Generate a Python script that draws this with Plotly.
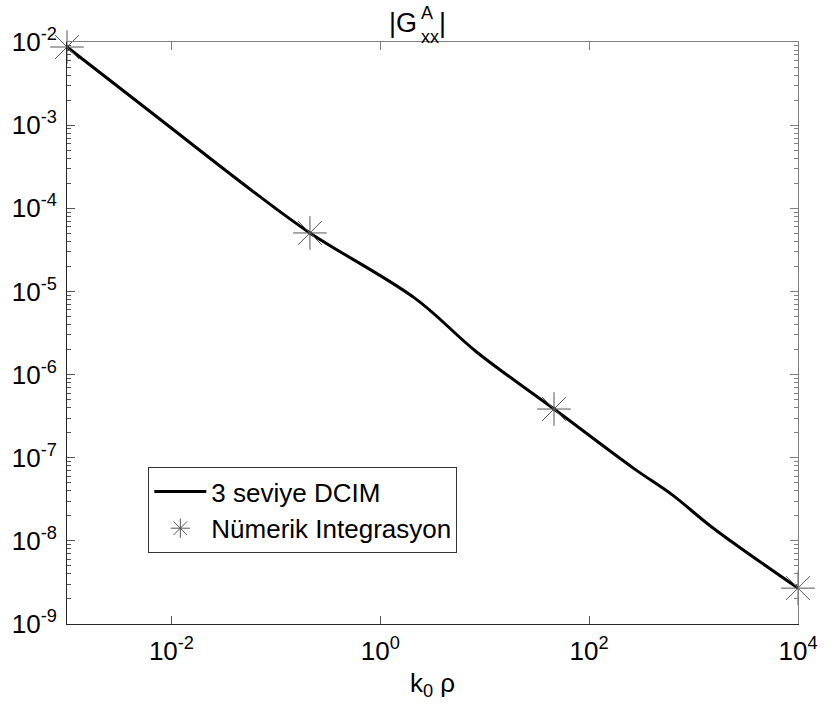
import plotly.graph_objects as go

# ---- data ----
line_x = [1e-3, 6.7e-3, 0.058, 0.212, 2.14, 8.36, 46.1, 265.0, 630.0, 1490.0, 1e4]
line_y = [8.7e-3, 1.36e-3, 1.66e-4, 5.05e-5, 8.3e-6, 1.87e-6, 3.85e-7, 7.5e-8, 3.55e-8, 1.47e-8, 2.7e-9]

mark_x = [1e-3, 0.212, 46.1, 1e4]
mark_y = [8.7e-3, 5.05e-5, 3.85e-7, 2.7e-9]

line_name = "3 seviye DCIM"
mark_name = "Nümerik Integrasyon"

x_tickvals = [1e-2, 1, 1e2, 1e4]
x_ticktext = ["10<sup>-2</sup>", "10<sup>0</sup>", "10<sup>2</sup>", "10<sup>4</sup>"]
y_tickvals = [1e-9, 1e-8, 1e-7, 1e-6, 1e-5, 1e-4, 1e-3, 1e-2]
y_ticktext = ["10<sup>-9</sup>", "10<sup>-8</sup>", "10<sup>-7</sup>", "10<sup>-6</sup>",
              "10<sup>-5</sup>", "10<sup>-4</sup>", "10<sup>-3</sup>", "10<sup>-2</sup>"]
y_minor = [m * 10.0 ** e for e in range(-9, -2) for m in range(2, 10)]

FONT = "Liberation Sans, Arial, sans-serif"
W, H = 830, 711
L, R, T, B = 62, 808, 42, 624

def px(xp):
    return (xp - L) / (R - L)

def py(yp):
    return (B - yp) / (B - T)

fig = go.Figure()
fig.add_trace(go.Scatter(x=line_x, y=line_y, mode="lines", name=line_name,
                         line=dict(color="black", width=3, shape="spline", smoothing=1.0),
                         cliponaxis=False))
fig.add_trace(go.Scatter(x=mark_x, y=mark_y, mode="markers", name=mark_name,
                         marker=dict(symbol="asterisk-open", size=28, color="#555555",
                                     line=dict(color="#555555", width=1)),
                         cliponaxis=False))

axis_common = dict(type="log", showgrid=False, zeroline=False, showline=True,
                   ticks="inside", tickcolor="#555555", tickwidth=1,
                   tickfont=dict(family=FONT, size=26, color="black"))

fig.update_layout(
    width=W, height=H,
    margin=dict(l=L, r=W - R, t=T, b=H - B, pad=0),
    paper_bgcolor="white", plot_bgcolor="white",
    font=dict(family=FONT, size=26, color="black"),
    showlegend=True,
    xaxis=dict(axis_common, range=[-3, 4], tickvals=x_tickvals, ticktext=x_ticktext,
               ticklen=8, linecolor="#262626", linewidth=1, ticklabelstandoff=4),
    yaxis=dict(axis_common, range=[-9, -2], tickvals=y_tickvals, ticktext=y_ticktext,
               ticklen=8, linecolor="#262626", linewidth=1, ticklabelstandoff=4,
               minor=dict(tickvals=y_minor, ticks="inside", ticklen=4,
                          tickcolor="#555555", tickwidth=1)),
    xaxis2=dict(type="log", range=[-3, 4], overlaying="x", side="top", anchor="y",
                showgrid=False, zeroline=False, showline=True, linecolor="#808080",
                ticks="inside", ticklen=8, tickcolor="#808080", tickvals=x_tickvals,
                showticklabels=False),
    yaxis2=dict(type="log", range=[-9, -2], overlaying="y", side="right", anchor="x",
                showgrid=False, zeroline=False, showline=True, linecolor="#808080",
                ticks="inside", ticklen=8, tickcolor="#808080", tickvals=y_tickvals,
                showticklabels=False,
                minor=dict(tickvals=y_minor, ticks="inside", ticklen=4,
                           tickcolor="#808080", tickwidth=1)),
    legend=dict(x=px(145), y=py(467), xanchor="left", yanchor="top",
                bgcolor="white", bordercolor="#333333", borderwidth=1,
                font=dict(family=FONT, size=26, color="black"),
                itemwidth=52, tracegroupgap=0),
)

# invisible trace holding the mirrored (top/right) axes
fig.add_trace(go.Scatter(x=[1e-3], y=[1e-2], xaxis="x2", yaxis="y2", mode="markers",
                         marker=dict(opacity=0), showlegend=False, hoverinfo="skip"))

# title |G^A_xx| with stacked super/subscript
ann = []
ann.append(dict(text="|G", x=px(421), y=py(23), xanchor="right", yanchor="middle",
                font=dict(family=FONT, size=27)))
ann.append(dict(text="A", x=px(421), y=py(13), xanchor="left", yanchor="middle",
                font=dict(family=FONT, size=18)))
ann.append(dict(text="xx", x=px(421), y=py(37), xanchor="left", yanchor="middle",
                font=dict(family=FONT, size=18)))
ann.append(dict(text="|", x=px(440), y=py(23), xanchor="left", yanchor="middle",
                font=dict(family=FONT, size=27)))
# x-axis label
ann.append(dict(text="k<sub>0</sub> ρ", x=0.5, y=py(684), xanchor="center", yanchor="middle",
                font=dict(family=FONT, size=26)))
for a in ann:
    a.update(xref="paper", yref="paper", showarrow=False)
fig.update_layout(annotations=ann)

fig.write_html("out.html")
